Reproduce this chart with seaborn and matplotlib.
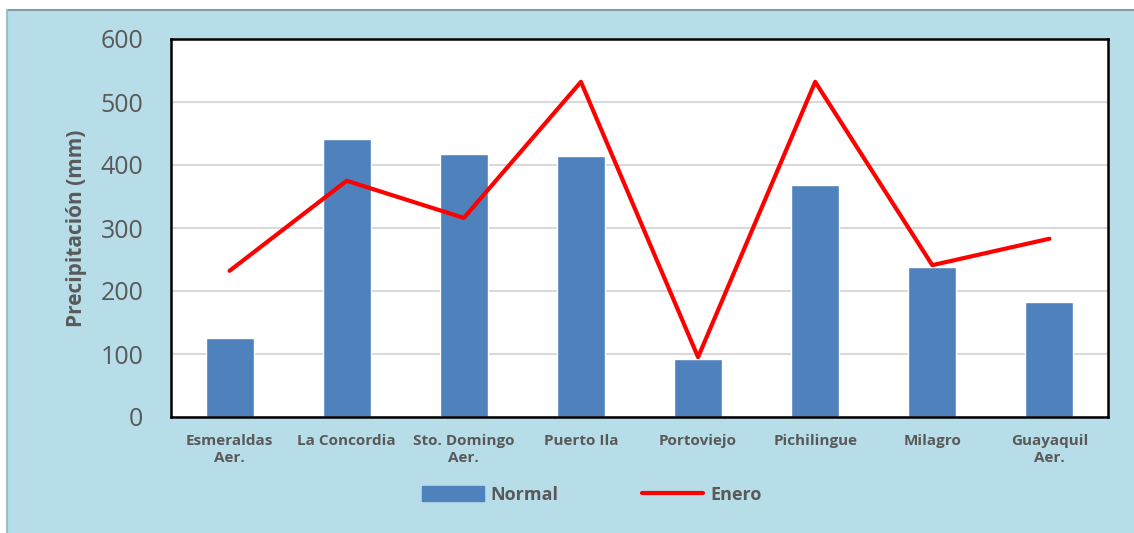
import matplotlib
matplotlib.use("Agg")
import matplotlib.pyplot as plt
import matplotlib.patches as mpatches
from matplotlib.lines import Line2D
import seaborn as sns
import pandas as pd

# datos
estaciones = ["Esmeraldas\nAer.", "La Concordia", "Sto. Domingo\nAer.", "Puerto Ila",
              "Portoviejo", "Pichilingue", "Milagro", "Guayaquil\nAer."]
normal = [125, 441, 417, 415, 92, 369, 238, 182]
enero = [232, 375, 316, 532, 95, 532, 241, 283]
yticks = [0, 100, 200, 300, 400, 500, 600]

df = pd.DataFrame({"estacion": estaciones, "Normal": normal, "Enero": enero})

sns.set_style("white")
plt.rcParams["font.family"] = ["Open Sans", "DejaVu Sans"]
gris = "#595959"
azul_fondo = "#b7dde8"

fig = plt.figure(figsize=(11.34, 5.33), dpi=100)
fig.patch.set_facecolor("white")
# panel de fondo celeste con borde gris arriba e izquierda
fondo = mpatches.Rectangle((7 / 1134, 0), 1 - 7 / 1134, 1 - 10 / 533,
                           transform=fig.transFigure, facecolor=azul_fondo,
                           edgecolor="none", zorder=-10)
fig.patches.append(fondo)
fig.add_artist(Line2D([7 / 1134, 1], [1 - 10 / 533] * 2, color="#7f9ea8", lw=1.5, zorder=-5))
fig.add_artist(Line2D([7 / 1134] * 2, [0, 1 - 10 / 533], color="#9fbfc8", lw=1.5, zorder=-5))

ax = fig.add_axes([171 / 1134, 1 - 417 / 533, 937 / 1134, 378 / 533])
ax.set_facecolor("white")

sns.barplot(data=df, x="estacion", y="Normal", color="#4f81bd", width=0.41,
            saturation=1, ax=ax, zorder=2)
sns.pointplot(data=df, x="estacion", y="Enero", color="#ff0000", markers="",
              linewidth=3, errorbar=None, ax=ax, zorder=3)

ax.set_xlim(-0.5, 7.5)
ax.set_ylim(0, 600)
ax.set_yticks(yticks)
ax.set_yticklabels([str(v) for v in yticks], fontsize=18, color=gris)
ax.set_xticks(range(len(estaciones)))
ax.set_xticklabels(estaciones, fontsize=11, fontweight="bold", color=gris,
                   linespacing=1.3)
ax.tick_params(axis="y", length=0, pad=20)
ax.tick_params(axis="x", length=0, pad=12)
ax.grid(axis="y", color="#d9d9d9", lw=1.5, zorder=0)
ax.set_axisbelow(True)
for s in ax.spines.values():
    s.set_visible(True)
    s.set_color("black")
    s.set_linewidth(1.8)

ax.set_xlabel("")
ax.set_ylabel("Precipitación (mm)", fontsize=15, fontweight="bold", color=gris)
ax.yaxis.set_label_coords(-0.0896, 0.5)

h_normal = mpatches.Patch(color="#4f81bd", label="Normal")
h_enero = Line2D([], [], color="#ff0000", lw=3, label="Enero")
fig.legend(handles=[h_normal, h_enero], loc="center", bbox_to_anchor=(0.522, 0.071),
           ncol=2, frameon=False, handlelength=3.4, handleheight=0.9,
           columnspacing=4.6, handletextpad=0.4,
           prop={"size": 13, "weight": "bold", "family": ["Open Sans", "DejaVu Sans"]},
           labelcolor=gris)

fig.savefig("out.png", dpi=100)
